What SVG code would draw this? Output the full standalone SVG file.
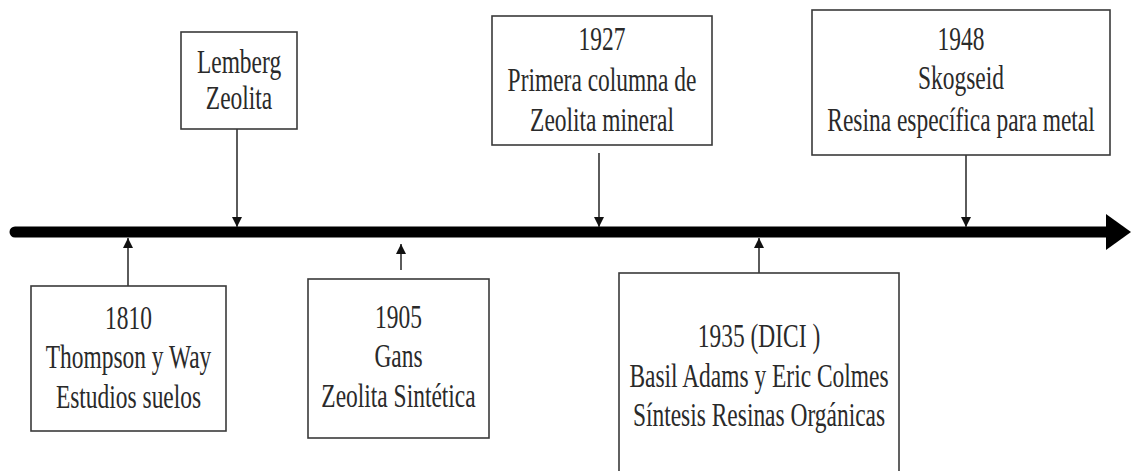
<svg xmlns="http://www.w3.org/2000/svg" width="1131" height="471" viewBox="0 0 1131 471">
<style>
.box{fill:#fff;stroke:#3a3a3a;stroke-width:1.6}
.t{font-family:"Liberation Serif","Times New Roman",serif;font-size:34px;fill:#2a2a2a;text-anchor:middle}
.c{stroke:#333;stroke-width:1.6;fill:none}
</style>
<defs>
<marker id="ah" viewBox="0 0 10 10" refX="10" refY="5" markerWidth="10" markerHeight="10" markerUnits="userSpaceOnUse" orient="auto">
<path d="M0,0 L10,5 L0,10 Z" fill="#111"/>
</marker>
</defs>
<rect width="1131" height="471" fill="#fff"/>
<g id="timeline">
<line x1="15" y1="232" x2="1108" y2="232" stroke="#000" stroke-width="11" stroke-linecap="round"/>
<path d="M1106,214 L1131,232 L1106,250 Z" fill="#000"/>
</g>
<g id="connectors">
<line class="c" x1="237" y1="129" x2="237" y2="227" marker-end="url(#ah)"/>
<line class="c" x1="599" y1="153" x2="599" y2="227" marker-end="url(#ah)"/>
<line class="c" x1="966" y1="155" x2="966" y2="227" marker-end="url(#ah)"/>
<line class="c" x1="128" y1="286" x2="128" y2="238" marker-end="url(#ah)"/>
<line class="c" x1="401" y1="270" x2="401" y2="244" marker-end="url(#ah)"/>
<line class="c" x1="759" y1="273" x2="759" y2="238" marker-end="url(#ah)"/>
</g>
<g id="n1810">
<rect class="box" x="31" y="286" width="195" height="145"/>
<text class="t" transform="translate(128.5,329) scale(0.69,1)">1810</text>
<text class="t" transform="translate(128.5,368) scale(0.69,1)">Thompson y Way</text>
<text class="t" transform="translate(128.5,408) scale(0.69,1)">Estudios suelos</text>
</g>
<g id="lemberg">
<rect class="box" x="181" y="32" width="116" height="97"/>
<text class="t" transform="translate(239,73) scale(0.69,1)">Lemberg</text>
<text class="t" transform="translate(239,109) scale(0.69,1)">Zeolita</text>
</g>
<g id="n1905">
<rect class="box" x="308" y="279" width="181" height="159"/>
<text class="t" transform="translate(398.5,328) scale(0.69,1)">1905</text>
<text class="t" transform="translate(398.5,367) scale(0.69,1)">Gans</text>
<text class="t" transform="translate(398.5,407) scale(0.69,1)">Zeolita Sintética</text>
</g>
<g id="n1927">
<rect class="box" x="492" y="16" width="220" height="129"/>
<text class="t" transform="translate(602,50) scale(0.69,1)">1927</text>
<text class="t" transform="translate(602,91) scale(0.69,1)">Primera columna de</text>
<text class="t" transform="translate(602,131) scale(0.69,1)">Zeolita mineral</text>
</g>
<g id="n1935">
<rect class="box" x="619" y="273" width="280" height="210"/>
<text class="t" transform="translate(759,347) scale(0.69,1)">1935 (DICI )</text>
<text class="t" transform="translate(759,387) scale(0.69,1)">Basil Adams y Eric Colmes</text>
<text class="t" transform="translate(759,426) scale(0.69,1)">Síntesis Resinas Orgánicas</text>
</g>
<g id="n1948">
<rect class="box" x="812" y="10" width="298" height="145"/>
<text class="t" transform="translate(961,50) scale(0.69,1)">1948</text>
<text class="t" transform="translate(961,89) scale(0.69,1)">Skogseid</text>
<text class="t" transform="translate(961,131) scale(0.69,1)">Resina específica para metal</text>
</g>
</svg>
